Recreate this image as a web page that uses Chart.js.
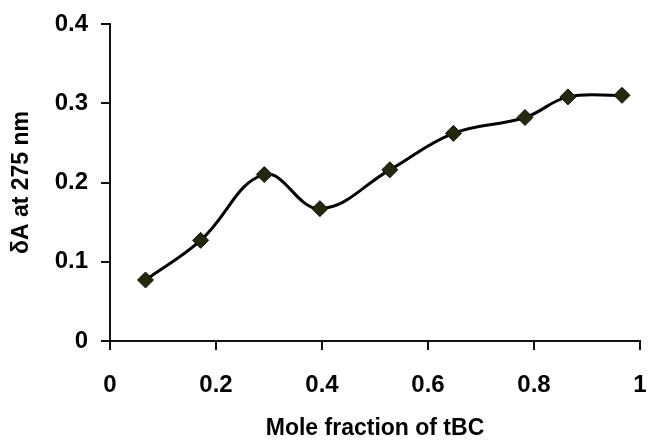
<!DOCTYPE html>
<html>
<head>
<meta charset="utf-8">
<script src="https://cdn.jsdelivr.net/npm/chart.js@4.4.1/dist/chart.umd.min.js"></script>
<style>
  html, body { margin: 0; padding: 0; background: #fff; }
  .chart-c { width: 649px; height: 442px; position: relative; }
</style>
</head>
<body>
<div class="chart-c">
  <canvas id="my-chart"></canvas>
</div>
<script>
// values
const moleFraction = [0.067, 0.171, 0.291, 0.396, 0.528, 0.648, 0.783, 0.864, 0.966]
const deltaA = [0.077, 0.127, 0.210, 0.167, 0.216, 0.262, 0.282, 0.308, 0.310]
const xTicks = [0, 0.2, 0.4, 0.6, 0.8, 1]
const yTicks = [0, 0.1, 0.2, 0.3, 0.4]

const points = moleFraction.map((x, i) => ({ x: x, y: deltaA[i] }))

const font = 'Liberation Sans, Arial, sans-serif'
const fmt = v => String(+Number(v).toFixed(1))

const myChart = new Chart(document.getElementById('my-chart'), {
    type: 'line',
    data: {
        datasets: [{
            data: points,
            borderColor: '#000',
            borderWidth: 3,
            tension: 0.4,
            pointStyle: 'rectRot',
            pointRadius: 8,
            pointBackgroundColor: '#232a0c',
            pointBorderColor: '#111',
            pointBorderWidth: 1
        }]
    },
    options: {
        responsive: true,
        maintainAspectRatio: false,
        animation: false,
        layout: {
            padding: { top: 24, right: 4, left: 0, bottom: 0 }
        },
        plugins: {
            legend: { display: false },
            tooltip: { enabled: false }
        },
        scales: {
            x: {
                type: 'linear',
                min: 0,
                max: 1,
                afterBuildTicks: s => { s.ticks = xTicks.map(v => ({ value: v })) },
                afterFit: s => {
                    s.height = 101
                    s.paddingLeft = 0
                    s.paddingRight = 0
                },
                border: { color: '#111', width: 2 },
                grid: { drawOnChartArea: false, color: '#111', lineWidth: 2, tickLength: 9 },
                ticks: {
                    padding: 21,
                    color: '#000',
                    font: { family: font, size: 24, weight: 'bold' },
                    callback: fmt
                },
                title: {
                    display: true,
                    text: 'Mole fraction of tBC',
                    color: '#000',
                    padding: { top: 0, bottom: 0 },
                    font: { family: font, size: 23, weight: 'bold' }
                }
            },
            y: {
                min: 0,
                max: 0.4,
                afterBuildTicks: s => { s.ticks = yTicks.map(v => ({ value: v })) },
                afterFit: s => {
                    s.width = 110
                    s.paddingTop = 0
                    s.paddingBottom = 0
                },
                border: { color: '#111', width: 2 },
                grid: { drawOnChartArea: false, color: '#111', lineWidth: 2, tickLength: 9 },
                ticks: {
                    padding: 13,
                    color: '#000',
                    font: { family: font, size: 24, weight: 'bold' },
                    callback: fmt
                },
                title: {
                    display: true,
                    text: 'δA at 275 nm',
                    color: '#000',
                    padding: { top: 8, bottom: 0 },
                    font: { family: font, size: 23, weight: 'bold' }
                }
            }
        }
    }
});
</script>
</body>
</html>
